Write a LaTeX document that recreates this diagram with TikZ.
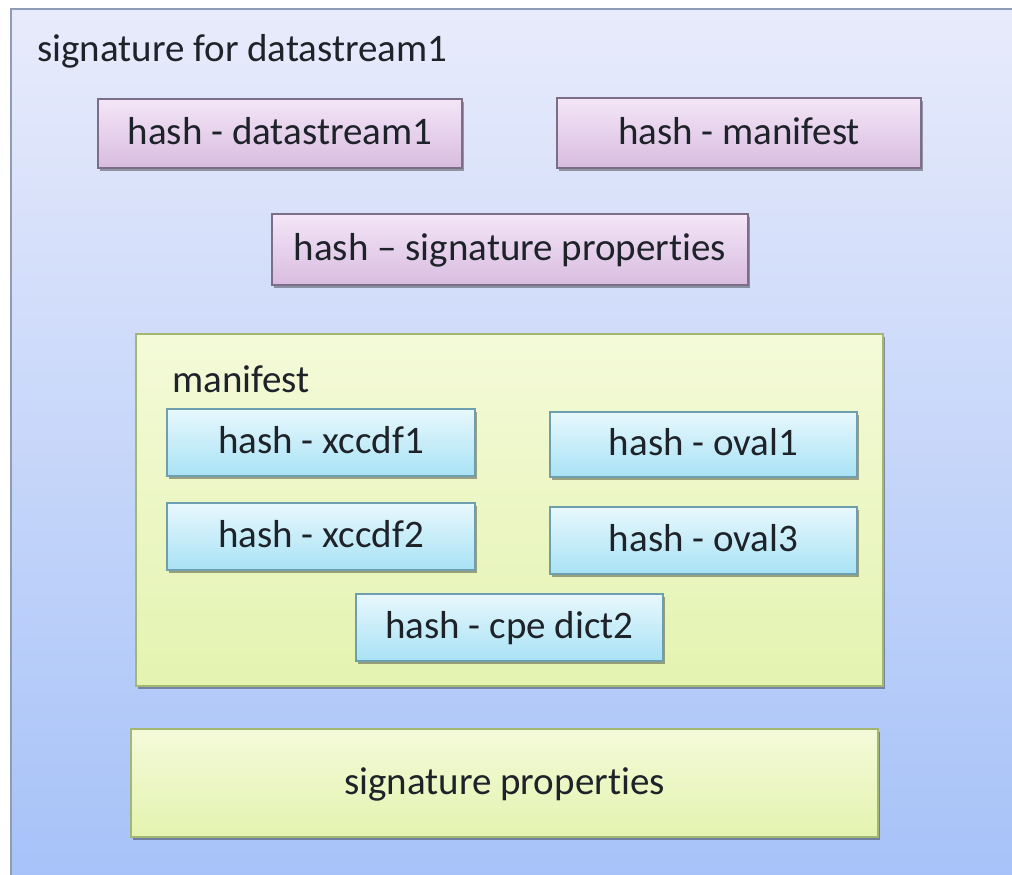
\documentclass[tikz,border=0pt]{standalone}
\usepackage{fontspec}
\setmainfont{Carlito}[Ligatures=CommonOff]
\usetikzlibrary{shadows}

\definecolor{outertop}{HTML}{E8EBFB}
\definecolor{outerbot}{HTML}{A6C2F8}
\definecolor{outerline}{HTML}{8E9DB5}
\definecolor{purptop}{HTML}{F4E6F7}
\definecolor{purpbot}{HTML}{D8BCE0}
\definecolor{purpline}{HTML}{7C6E88}
\definecolor{cyantop}{HTML}{E8F8FD}
\definecolor{cyanbot}{HTML}{A8E2F5}
\definecolor{cyanline}{HTML}{6E9FAE}
\definecolor{greentop}{HTML}{F4FAD9}
\definecolor{greenbot}{HTML}{E4F3B0}
\definecolor{greenline}{HTML}{A2B872}
\definecolor{inktext}{HTML}{1E2229}

\tikzset{
  every node/.style={font=\fontsize{39}{47}\selectfont, text=inktext},
  hashbox/.style={rectangle, inner sep=0pt, line width=1.4pt,
    text height=29pt, text depth=7pt,
    drop shadow={shadow xshift=2pt, shadow yshift=-2.5pt, opacity=0.35, fill=black}},
  purplebox/.style={hashbox, draw=purpline, top color=purptop, bottom color=purpbot},
  cyanbox/.style={hashbox, draw=cyanline, top color=cyantop, bottom color=cyanbot},
  greenbox/.style={hashbox, draw=greenline, top color=greentop, bottom color=greenbot},
  caption/.style={anchor=base west, inner sep=0pt}
}

\begin{document}
\begin{tikzpicture}[x=1pt, y=-1pt]
  \useasboundingbox (0,0) rectangle (1012,875);
  \clip (0,0) rectangle (1012,875);

  % outer signature frame
  \node[rectangle, inner sep=0pt, draw=outerline, line width=1.6pt,
        top color=outertop, bottom color=outerbot,
        minimum width=1010pt, minimum height=872pt] (frame) at (516,445) {};
  \node[caption] (title) at (37,62) {signature for datastream1};

  % signed references
  \node[purplebox, minimum width=364pt, minimum height=69pt] (hd1) at (280,133.5) {hash - datastream1};
  \node[purplebox, minimum width=364pt, minimum height=70pt] (hman) at (739,133) {hash - manifest};
  \node[purplebox, minimum width=476pt, minimum height=71pt] (hsp) at (510,249.5) {hash -- signature properties};

  % manifest container
  \node[greenbox, minimum width=747pt, minimum height=352pt] (man) at (509.5,510) {};
  \node[caption] (mantitle) at (172,392) {manifest};

  \node[cyanbox, minimum width=308pt, minimum height=67pt] (x1) at (321,442.5) {hash - xccdf1};
  \node[cyanbox, minimum width=308pt, minimum height=67pt] (x2) at (321,536.5) {hash - xccdf2};
  \node[cyanbox, minimum width=307pt, minimum height=65pt] (o1) at (703.5,444.5) {hash - oval1};
  \node[cyanbox, minimum width=307pt, minimum height=67pt] (o3) at (703.5,540.5) {hash - oval3};
  \node[cyanbox, minimum width=307pt, minimum height=67pt] (cpe) at (509.5,627.5) {hash - cpe dict2};

  % signature properties block
  \node[greenbox, minimum width=747pt, minimum height=108pt] (sprops) at (504.5,783) {signature properties};
\end{tikzpicture}
\end{document}
